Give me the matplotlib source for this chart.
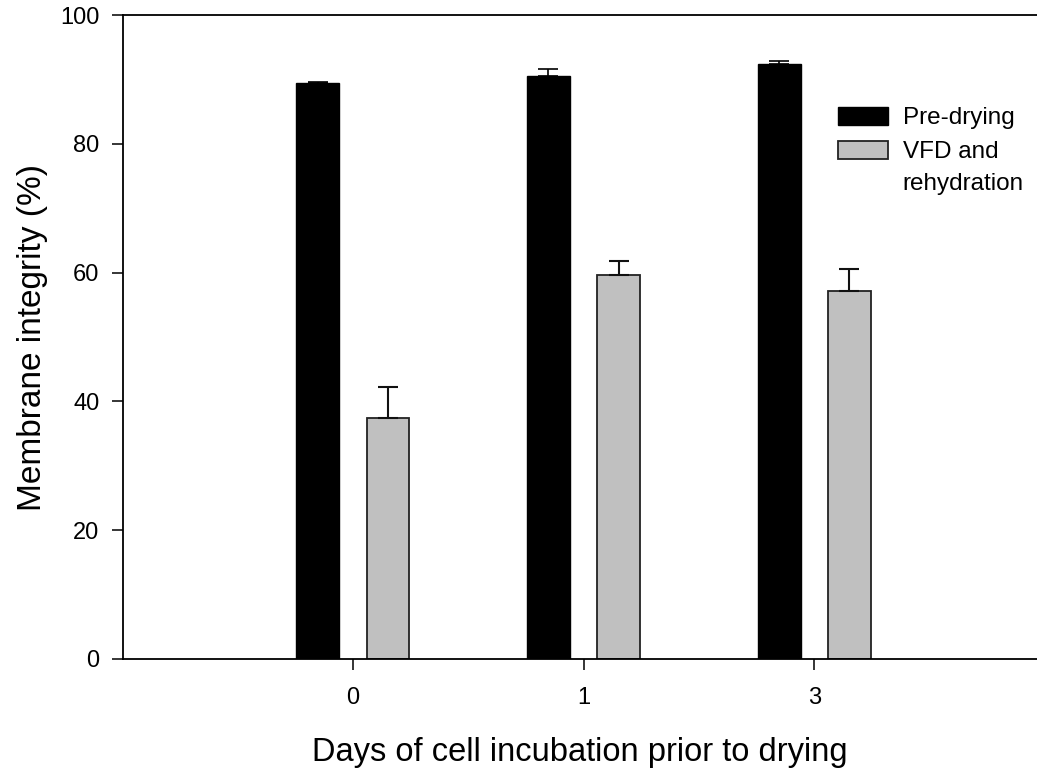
import matplotlib.pyplot as plt
from matplotlib.patches import Rectangle
import numpy as np

plt.rcParams['font.family'] = ['Liberation Sans', 'DejaVu Sans']

# data
days = ['0', '1', '3']
pre_drying = [89.4, 90.5, 92.4]
pre_err = [0.25, 1.1, 0.4]
vfd = [37.4, 59.7, 57.2]
vfd_err = [4.9, 2.1, 3.4]
legend_labels = ['Pre-drying', 'VFD and', 'rehydration']

x = np.arange(len(days))
w = 0.185
off = 0.152

fig = plt.figure(figsize=(10.37, 7.71), dpi=100)
ax = fig.add_axes([0.1186, 0.1453, 0.8814, 0.8352])

ax.bar(x - off, pre_drying, w, color='black', edgecolor='black', linewidth=1)
ax.errorbar(x - off, pre_drying, yerr=[np.zeros(3), pre_err], fmt='none',
            ecolor='black', elinewidth=1.2, capsize=7.5, capthick=1.2)
ax.bar(x + off, vfd, w, color='#c0c0c0', edgecolor='#222222', linewidth=1.3)
ax.errorbar(x + off, vfd, yerr=[np.zeros(3), vfd_err], fmt='none',
            ecolor='#111111', elinewidth=1.5, capsize=7.5, capthick=1.5)

ax.set_xlim(-0.996, 2.965)
ax.set_ylim(0, 100)
ax.set_xticks(x)
ax.set_xticklabels(days)
ax.set_yticks([0, 20, 40, 60, 80, 100])

ax.spines['right'].set_visible(False)
for s in ['left', 'bottom', 'top']:
    ax.spines[s].set_linewidth(1.3)
ax.tick_params(direction='out', length=8, width=1.1, labelsize=17, pad=9)
ax.tick_params(axis='x', pad=12)

ax.set_xlabel('Days of cell incubation prior to drying', fontsize=23.5, labelpad=20)
ax.set_ylabel('Membrane integrity (%)', fontsize=24, labelpad=9)

# legend drawn by hand (second label sits on two lines, patch next to first)
ax.add_patch(Rectangle((0.782, 0.829), 0.0547, 0.028, transform=ax.transAxes,
                       facecolor='black', edgecolor='black', lw=1, clip_on=False))
ax.add_patch(Rectangle((0.782, 0.776), 0.0547, 0.028, transform=ax.transAxes,
                       facecolor='#c0c0c0', edgecolor='#222222', lw=1.3, clip_on=False))
for lbl, yb in zip(legend_labels, [0.831, 0.778, 0.728]):
    ax.text(0.853, yb, lbl, transform=ax.transAxes, fontsize=17.5,
            va='baseline', ha='left')

fig.savefig('out.png', dpi=100)
